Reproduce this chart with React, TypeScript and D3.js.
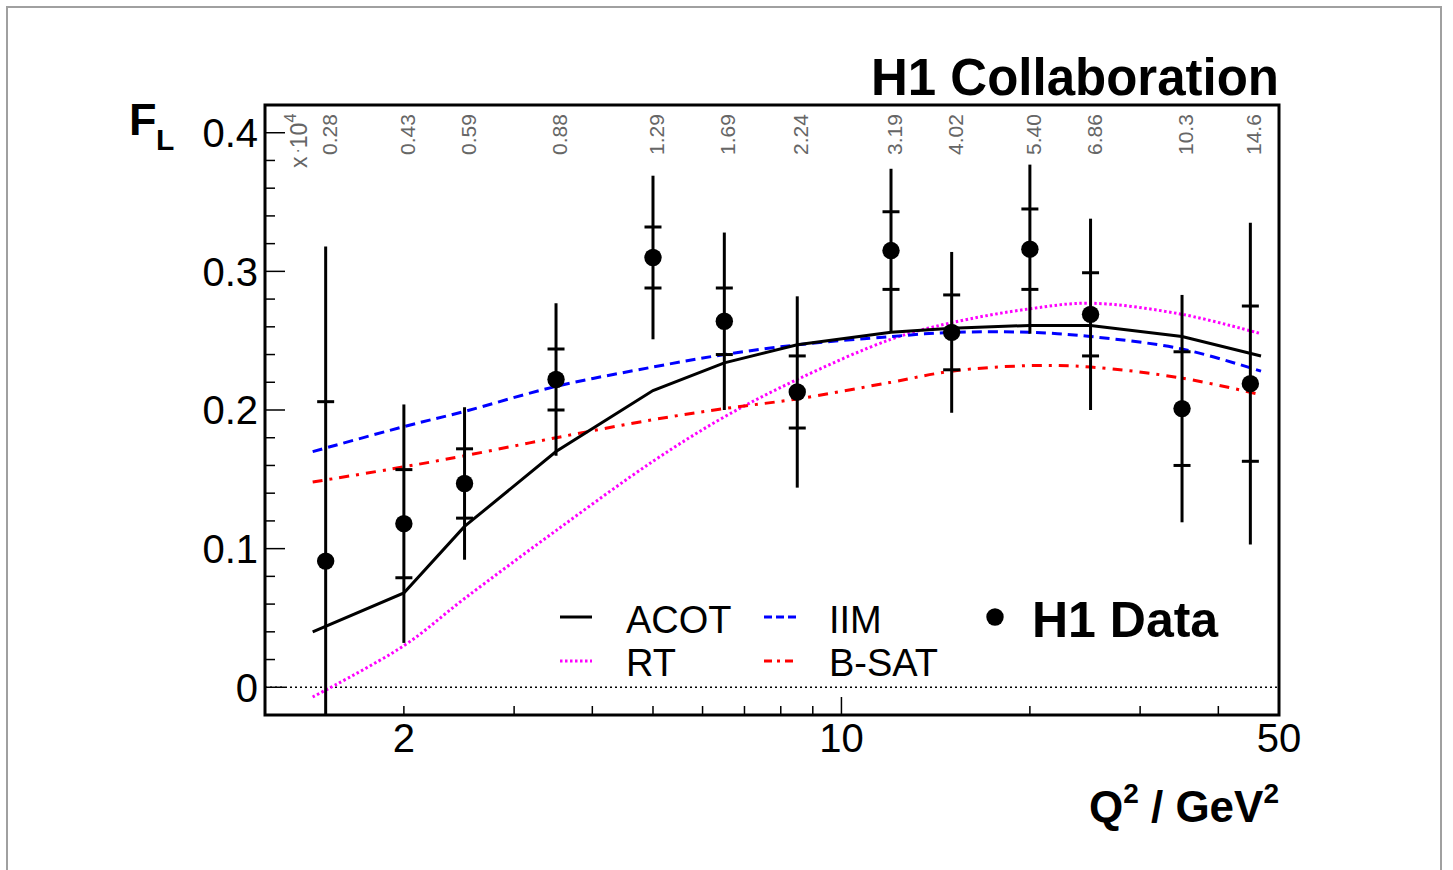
import React from "react";
import * as d3 from "d3";

// H1 data points
const q2 = [1.5, 2.0, 2.5, 3.5, 5.0, 6.5, 8.5, 12, 15, 20, 25, 35, 45];
const fl = [0.091, 0.118, 0.147, 0.222, 0.310, 0.264, 0.213, 0.315, 0.256, 0.316, 0.269, 0.201, 0.219];
const statErr = [0.115, 0.039, 0.025, 0.022, 0.022, 0.024, 0.026, 0.028, 0.027, 0.029, 0.030, 0.041, 0.056];
const totErr = [0.227, 0.086, 0.055, 0.055, 0.059, 0.064, 0.069, 0.059, 0.058, 0.061, 0.069, 0.082, 0.116];
const xLabels = ["0.28", "0.43", "0.59", "0.88", "1.29", "1.69", "2.24", "3.19", "4.02", "5.40", "6.86", "10.3", "14.6"];

// model curves
const curveQ2 = [1.43, 2, 2.5, 3.5, 5, 6.5, 8.5, 12, 15, 20, 25, 35, 46.8];
const acot = [0.040, 0.068, 0.116, 0.170, 0.214, 0.234, 0.247, 0.256, 0.259, 0.261, 0.261, 0.253, 0.239];
const iim = [0.170, 0.188, 0.199, 0.217, 0.231, 0.240, 0.247, 0.253, 0.256, 0.256, 0.253, 0.244, 0.228];
const bsat = [0.148, 0.159, 0.167, 0.180, 0.193, 0.201, 0.208, 0.220, 0.228, 0.232, 0.231, 0.223, 0.211];
const rt = [-0.007, 0.030, 0.064, 0.113, 0.163, 0.195, 0.222, 0.251, 0.263, 0.273, 0.277, 0.269, 0.255];

const yMajor = [0, 0.1, 0.2, 0.3, 0.4];
const xMajorLabels = [2, 10, 50];
const xTicks = [2, 3, 4, 5, 6, 7, 8, 9, 10, 20, 30, 40];

const L = 265, R = 1279, T = 105, B = 715;
const FONT = "'Liberation Sans', Arial, Helvetica, sans-serif";

export default function App() {
  const x = d3.scaleLog().domain([1.2, 50]).range([L, R]);
  const y = d3.scaleLinear().domain([-0.02, 0.42]).range([B, T]);

  const lineLin = d3.line<[number, number]>().x(d => x(d[0])).y(d => y(d[1]));
  const lineSmooth = d3.line<[number, number]>().x(d => x(d[0])).y(d => y(d[1])).curve(d3.curveCatmullRom);
  const pts = (vals: number[]) => curveQ2.map((q, i) => [q, vals[i]] as [number, number]);

  const yMinor = d3.range(-0.02, 0.4201, 0.02).map(v => Math.round(v * 100) / 100).filter(v => v > -0.02 && v < 0.42);

  return (
    <svg width={1453} height={870} style={{ display: "block", position: "absolute", left: 0, top: 0, background: "#fff" }} fontFamily={FONT}>
      <rect x={7} y={7} width={1434} height={900} fill="none" stroke="#a0a0a0" strokeWidth={2} />
      <defs>
        <clipPath id="plotclip">
          <rect x={L} y={T} width={R - L} height={B - T} />
        </clipPath>
      </defs>

      {/* title */}
      <text x={R} y={95} textAnchor="end" fontSize={51} fontWeight="bold">H1 Collaboration</text>

      {/* zero line */}
      <line x1={L} x2={R} y1={y(0)} y2={y(0)} stroke="#000" strokeWidth={1.5} strokeDasharray="2,3" />

      {/* curves */}
      <g clipPath="url(#plotclip)" fill="none" strokeWidth={3}>
        <path d={lineSmooth(pts(rt)) || ""} stroke="#ff00ff" strokeDasharray="2.5,2.5" />
        <path d={lineSmooth(pts(bsat)) || ""} stroke="#ff0000" strokeDasharray="10,7,3,7" />
        <path d={lineSmooth(pts(iim)) || ""} stroke="#0000ff" strokeDasharray="10,6" />
        <path d={lineLin(pts(acot)) || ""} stroke="#000" />
      </g>

      {/* data */}
      <g clipPath="url(#plotclip)">
        {q2.map((q, i) => {
          const cx = x(q);
          return (
            <g key={i}>
              <line x1={cx} x2={cx} y1={y(fl[i] + totErr[i])} y2={y(fl[i] - totErr[i])} stroke="#000" strokeWidth={3} />
              <line x1={cx - 8.5} x2={cx + 8.5} y1={y(fl[i] + statErr[i])} y2={y(fl[i] + statErr[i])} stroke="#000" strokeWidth={3} />
              <line x1={cx - 8.5} x2={cx + 8.5} y1={y(fl[i] - statErr[i])} y2={y(fl[i] - statErr[i])} stroke="#000" strokeWidth={3} />
              <circle cx={cx} cy={y(fl[i])} r={8.7} fill="#000" />
            </g>
          );
        })}
      </g>

      {/* top x labels */}
      {q2.map((q, i) => {
        const bx = x(q) + 11, by = 155;
        return (
          <text key={i} transform={`translate(${bx},${by}) rotate(-90)`} fontSize={21} fill="#666">{xLabels[i]}</text>
        );
      })}
      <text transform={`translate(307,168) rotate(-90)`} fontSize={23} fill="#666">
        x<tspan fontSize={16} dx={3} dy={-4}>·</tspan><tspan dy={4} fontSize={23}>10</tspan><tspan fontSize={16} dy={-11}>4</tspan>
      </text>

      {/* y axis ticks */}
      {yMinor.map(v => {
        const isMajor = yMajor.some(m => Math.abs(m - v) < 1e-6);
        return <line key={v} x1={L} x2={L + (isMajor ? 20 : 10)} y1={y(v)} y2={y(v)} stroke="#000" strokeWidth={1.5} />;
      })}
      {yMajor.map(v => (
        <text key={v} x={258} y={y(v)} dy="0.36em" textAnchor="end" fontSize={40}>{v === 0 ? "0" : v.toFixed(1)}</text>
      ))}

      {/* x axis ticks */}
      {xTicks.map(v => (
        <line key={v} x1={x(v)} x2={x(v)} y1={B} y2={B - (v === 10 ? 18 : 9)} stroke="#000" strokeWidth={1.5} />
      ))}
      {xMajorLabels.map(v => (
        <text key={v} x={x(v)} y={752} textAnchor="middle" fontSize={40}>{v}</text>
      ))}

      {/* frame */}
      <rect x={L} y={T} width={R - L} height={B - T} fill="none" stroke="#000" strokeWidth={3} />

      {/* axis titles */}
      <text x={R} y={822} textAnchor="end" fontSize={44} fontWeight="bold">
        Q<tspan fontSize={28} dy={-19}>2</tspan><tspan dy={19}> / GeV</tspan><tspan fontSize={28} dy={-19}>2</tspan>
      </text>
      <text x={129} y={135} fontSize={45} fontWeight="bold">F</text>
      <text x={156} y={150} fontSize={30} fontWeight="bold">L</text>

      {/* legend */}
      <g strokeWidth={3}>
        <line x1={560} x2={592} y1={617} y2={617} stroke="#000" />
        <line x1={560} x2={592} y1={661} y2={661} stroke="#ff00ff" strokeDasharray="2.5,2.5" />
        <line x1={764} x2={796} y1={617} y2={617} stroke="#0000ff" strokeDasharray="8,4" />
        <line x1={764} x2={796} y1={661} y2={661} stroke="#ff0000" strokeDasharray="8,5,3,5" />
      </g>
      <text x={626} y={633} fontSize={38}>ACOT</text>
      <text x={626} y={676} fontSize={38}>RT</text>
      <text x={829} y={633} fontSize={38}>IIM</text>
      <text x={829} y={676} fontSize={38}>B-SAT</text>
      <circle cx={995} cy={617} r={8.7} fill="#000" />
      <text x={1032} y={637} fontSize={50} fontWeight="bold">H1 Data</text>
    </svg>
  );
}
